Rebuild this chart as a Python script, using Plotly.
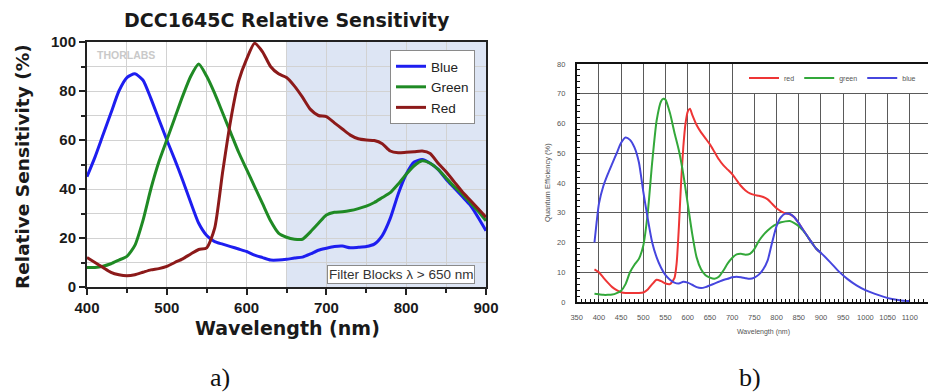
import plotly.graph_objects as go

# ---------------- data: chart a) DCC1645C relative sensitivity ----------------
a_wavelength = list(range(400, 901, 10))
a_blue = [45, 53, 62, 71, 80, 85.5, 87, 84.5, 77, 68.5,
          60, 52, 43.5, 34.5, 26, 21, 18.5, 17.5, 16.5, 15.5,
          14.5, 13, 12, 11, 11, 11.3, 11.8, 12.2, 13.5, 15,
          15.8, 16.5, 16.7, 16, 16.2, 16.5, 17.5, 21, 28, 38,
          46, 51, 52, 50.5, 48, 44, 40.5, 37, 33.5, 28.5, 23]
a_green = [8, 8, 8.5, 9.5, 11, 12.5, 17, 27, 40, 51,
           60, 69, 78, 86, 91, 86, 79, 71, 63, 55,
           48, 41, 34, 27, 22, 20.3, 19.5, 19.5, 22.5, 26,
           29.4, 30.5, 30.7, 31.2, 32, 33, 34.5, 36.5, 38.5, 42,
           46, 49.5, 51.5, 50.5, 48, 44.5, 41, 38, 34.5, 31, 27]
a_red = [12, 10, 8, 6, 5, 4.6, 5, 6, 7, 7.5,
         8.4, 10, 11.5, 13.5, 15.3, 16, 24, 47, 68, 84,
         93, 99.5, 96, 90, 87, 85.5, 82, 77.5, 72.5, 70,
         69.5, 67, 64.5, 62, 60.5, 60, 59.8, 58.5, 55.5, 54.8,
         55, 55.2, 55.5, 54.5, 50.5, 47, 43, 39, 35.5, 32, 28.5]
a_x_ticks = [400, 500, 600, 700, 800, 900]
a_y_ticks = [0, 20, 40, 60, 80, 100]
a_filter_start = 650

# ---------------- data: chart b) quantum efficiency ----------------
b_blue_wl = [390, 395, 400, 410, 420, 430, 440, 450, 460, 470, 480, 490, 500, 510, 520,
             530, 540, 550, 560, 570, 580, 590, 600, 610, 620, 630, 640, 650, 660, 670,
             680, 690, 700, 710, 720, 730, 740, 750, 760, 770, 780, 790, 800, 810, 820,
             830, 840, 850, 860, 870, 880, 890, 900, 920, 940, 960, 980, 1000, 1020, 1040,
             1060, 1080, 1100]
b_blue = [20, 27, 33, 39, 43, 46.5, 50, 53.5, 55.3, 54.5, 52, 47, 37, 28, 20,
          15, 11.5, 9, 7.5, 6.5, 6.2, 6.8, 6.5, 5.8, 5, 4.7, 5, 5.6, 6.2, 6.8,
          7.4, 7.8, 8.3, 8.5, 8.3, 8, 7.8, 8.2, 9.2, 11, 14, 20, 25.5, 28.5, 29.7,
          29.6, 28.5, 26.5, 24.2, 22, 19.8, 17.8, 16.5, 13.5, 10.3, 7.7, 5.6, 4, 2.8, 1.8,
          1, 0.5, 0.3]
b_green_wl = [390, 400, 410, 420, 430, 440, 450, 460, 470, 480, 490, 500, 510, 520, 530,
              540, 545, 550, 560, 570, 580, 590, 600, 610, 620, 630, 640, 650, 660, 670,
              680, 690, 700, 710, 720, 730, 740, 750, 760, 770, 780, 790, 800, 810, 820,
              830, 840, 850, 860, 870, 880, 890, 900]
b_green = [2.8, 2.6, 2.4, 2.4, 2.5, 3, 3.8, 6, 10, 12.5, 14.5, 19, 30, 47, 61,
           67.5, 68.3, 68, 63.5, 57, 51, 43, 33, 23, 15, 11, 9, 8.2, 7.8, 8.5,
           10.5, 13, 14.8, 16, 16.2, 15.9, 16.2, 17.8, 20.5, 22.5, 24, 25.3, 26.2, 26.8, 27.1,
           27.2, 26.5, 25.5, 24, 22, 19.8, 17.8, 16.5]
b_red_wl = [390, 400, 410, 420, 430, 440, 450, 460, 470, 480, 490, 500, 510, 520, 530,
            540, 550, 560, 570, 575, 580, 585, 590, 595, 600, 605, 610, 620, 630, 640,
            650, 660, 670, 680, 690, 700, 710, 720, 730, 740, 750, 760, 770, 780, 790,
            800, 810, 820, 830, 840, 850, 860, 870, 880, 890, 900]
b_red = [11, 10, 8.2, 6.5, 5, 4, 3.3, 3, 3, 3, 3, 3.2, 4.2, 6, 7.5,
         7, 6.2, 6, 8, 13, 25, 40, 52, 60, 64, 65, 63, 59.5, 57, 55,
         53, 50.5, 48, 46, 44.5, 43, 41, 39, 37.5, 36.5, 36, 35.7, 35.3, 34.5, 33,
         31.5, 30.5, 29.8, 29.5, 28.5, 26.5, 24.2, 22, 19.8, 17.8, 16.5]

W, H = 928, 392


def px(x):
    return x / W


def py(y):
    return 1 - y / H


BOLD_TITLE = dict(family="DejaVu Sans", size=19, color="#1a1a1a", weight="bold")

fig = go.Figure()

# chart a) traces
fig.add_trace(go.Scatter(x=a_wavelength, y=a_blue, name="Blue", mode="lines",
                         line=dict(color="#1e1ef0", width=3, shape="spline", smoothing=0.6),
                         xaxis="x", yaxis="y", legend="legend"))
fig.add_trace(go.Scatter(x=a_wavelength, y=a_green, name="Green", mode="lines",
                         line=dict(color="#1f8a24", width=3, shape="spline", smoothing=0.6),
                         xaxis="x", yaxis="y", legend="legend"))
fig.add_trace(go.Scatter(x=a_wavelength, y=a_red, name="Red", mode="lines",
                         line=dict(color="#8c1a1a", width=3, shape="spline", smoothing=0.6),
                         xaxis="x", yaxis="y", legend="legend"))

# chart b) traces
fig.add_trace(go.Scatter(x=b_red_wl, y=b_red, name="red", mode="lines",
                         line=dict(color="#ee3535", width=2, shape="spline", smoothing=0.6),
                         xaxis="x2", yaxis="y2", legend="legend2"))
fig.add_trace(go.Scatter(x=b_green_wl, y=b_green, name="green", mode="lines",
                         line=dict(color="#33a83a", width=2, shape="spline", smoothing=0.6),
                         xaxis="x2", yaxis="y2", legend="legend2"))
fig.add_trace(go.Scatter(x=b_blue_wl, y=b_blue, name="blue", mode="lines",
                         line=dict(color="#4646de", width=2, shape="spline", smoothing=0.6),
                         xaxis="x2", yaxis="y2", legend="legend2"))

a_tickfont = dict(family="Liberation Sans", size=15, color="#1a1a1a", weight="bold")
b_tickfont = dict(family="Liberation Sans", size=7.5, color="#555555")

fig.update_layout(
    width=W, height=H,
    margin=dict(l=0, r=0, t=0, b=0, autoexpand=False),
    paper_bgcolor="white", plot_bgcolor="white",
    xaxis=dict(domain=[px(87), px(486)], range=[400, 900], anchor="y", automargin=False,
               tickvals=a_x_ticks, tickfont=a_tickfont,
               showgrid=True, gridcolor="#d2d2d2", gridwidth=1,
               ticks="outside", ticklen=6, tickwidth=1.5, tickcolor="#222",
               minor=dict(dtick=50, tick0=400, showgrid=True, gridcolor="#d2d2d2",
                          ticks="outside", ticklen=4, tickcolor="#222"),
               showline=True, linecolor="#222", linewidth=2, mirror=True,
               zeroline=False),
    yaxis=dict(domain=[py(287), py(42)], range=[0, 100], anchor="x", automargin=False,
               tickvals=a_y_ticks, tickfont=a_tickfont,
               showgrid=True, gridcolor="#d2d2d2", gridwidth=1,
               ticks="outside", ticklen=6, tickwidth=1.5, tickcolor="#222",
               minor=dict(dtick=10, tick0=0, showgrid=True, gridcolor="#d2d2d2",
                          ticks="outside", ticklen=4, tickcolor="#222"),
               showline=True, linecolor="#222", linewidth=2, mirror=True,
               zeroline=False),
    xaxis2=dict(domain=[px(576.7), 1.0], range=[350, 1141], anchor="y2", automargin=False,
                tick0=350, dtick=50, tickfont=b_tickfont, ticklabelstandoff=7,
                showgrid=True, gridcolor="#5a5a5a", gridwidth=1.4,
                ticks="inside", ticklen=3, tickcolor="#111",
                minor=dict(dtick=10, tick0=350, ticks="inside", ticklen=3, tickcolor="#111",
                           tickwidth=1.2, showgrid=False),
                showline=True, linecolor="#111", linewidth=1.6, mirror=True,
                zeroline=False),
    yaxis2=dict(domain=[py(302), py(64)], range=[0, 80], anchor="x2", automargin=False,
                tick0=0, dtick=10, tickfont=b_tickfont, ticklabelstandoff=8,
                showgrid=True, gridcolor="#5a5a5a", gridwidth=1.4,
                ticks="inside", ticklen=3, tickcolor="#111",
                minor=dict(dtick=2, tick0=0, ticks="inside", ticklen=3, tickcolor="#111",
                           tickwidth=1.2, showgrid=False),
                showline=True, linecolor="#111", linewidth=1.6,
                zeroline=False),
    legend=dict(x=px(390), y=py(50), xanchor="left", yanchor="top",
                bgcolor="white", bordercolor="#8a8a8a", borderwidth=1,
                font=dict(family="Liberation Sans", size=13.5, color="#222"),
                tracegroupgap=0, itemwidth=30),
    legend2=dict(x=px(921), y=py(78), xanchor="right", yanchor="middle",
                 orientation="h", bgcolor="white", borderwidth=0,
                 font=dict(family="Liberation Sans", size=7, color="#555")),
    showlegend=True,
)

# shaded filter region on chart a)
fig.add_shape(type="rect", xref="x", yref="y domain", x0=a_filter_start, x1=900, y0=0, y1=1,
              fillcolor="#dde5f4", line=dict(width=0), layer="below")

annotations = [
    dict(text="DCC1645C Relative Sensitivity", x=px(287), y=py(20), font=BOLD_TITLE),
    dict(text="Relative Sensitivity (%)", x=px(23), y=py(167), textangle=-90,
         font=dict(family="DejaVu Sans", size=18.5, color="#1a1a1a", weight="bold")),
    dict(text="Wavelength (nm)", x=px(287), y=py(328), font=BOLD_TITLE),
    dict(text="THORLABS", x=px(126), y=py(55),
         font=dict(family="Liberation Sans", size=10.5, color="#c9c9c9", weight="bold")),
    dict(text="Filter Blocks λ > 650 nm", x=px(401), y=py(274),
         font=dict(family="Liberation Sans", size=13.5, color="#333"),
         bgcolor="white", bordercolor="#8a8a8a", borderwidth=1, borderpad=1),
    dict(text="Quantum Efficiency (%)", x=px(547), y=py(183), textangle=-90,
         font=dict(family="Liberation Sans", size=7.5, color="#555")),
    dict(text="Wavelength (nm)", x=px(763), y=py(332),
         font=dict(family="Liberation Sans", size=7, color="#555")),
    dict(text="a)", x=px(220), y=py(377),
         font=dict(family="Liberation Serif", size=26, color="#111")),
    dict(text="b)", x=px(750), y=py(377),
         font=dict(family="Liberation Serif", size=26, color="#111")),
]
for a in annotations:
    a.update(xref="paper", yref="paper", showarrow=False, xanchor="center", yanchor="middle")
    fig.add_annotation(**a)

fig.write_html("out.html", config={"displayModeBar": False},
               post_script="document.body.style.margin='0';document.body.style.overflow='hidden';")
